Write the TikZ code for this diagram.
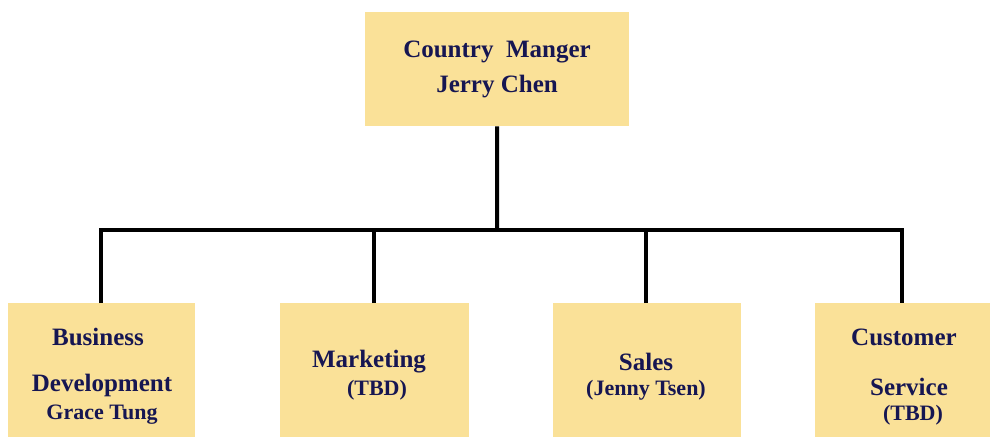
\documentclass[tikz,border=0pt]{standalone}
\usepackage{fontspec}
\setmainfont{Liberation Serif}
\definecolor{boxfill}{RGB}{250,225,152}
\definecolor{ink}{RGB}{22,22,82}
\begin{document}
\begin{tikzpicture}[x=1pt,y=-1pt,
  unitbox/.style={draw=none,fill=boxfill,inner sep=0pt,anchor=north west},
  txt/.style={text=ink,font=\bfseries,inner sep=0pt},
  big/.style={txt,font=\fontsize{25}{25}\bfseries\selectfont},
  small/.style={txt,font=\fontsize{22}{22}\bfseries\selectfont},
  link/.style={line width=4pt,black,line join=miter}]
\useasboundingbox (0,0) rectangle (992,436);
\clip (0,0) rectangle (992,436);
\fill[white] (0,0) rectangle (992,436);

% boxes
\node[unitbox,minimum width=264pt,minimum height=114pt] (top) at (365,12) {};
\node[unitbox,minimum width=187pt,minimum height=150pt] (b1) at (8,303) {};
\node[unitbox,minimum width=189pt,minimum height=150pt] (b2) at (280,303) {};
\node[unitbox,minimum width=188pt,minimum height=150pt] (b3) at (553,303) {};
\node[unitbox,minimum width=175pt,minimum height=150pt] (b4) at (815,303) {};

% texts
\node[big] (t1) at (497,52) {Country\ \ Manger};
\node[big] (t2) at (497,87) {Jerry Chen};

\node[big] (b1a) at (98,337) {Business};
\node[big] (b1b) at (102,385) {Development};
\node[small] (b1c) at (102,415) {Grace Tung};

\node[big] (b2a) at (369,362) {Marketing};
\node[small] (b2b) at (377,390) {(TBD)};

\node[big] (b3a) at (646,362) {Sales};
\node[small] (b3b) at (646,390) {(Jenny Tsen)};

\node[big] (b4a) at (904,337) {Customer};
\node[big] (b4b) at (909,387) {Service};
\node[small] (b4c) at (913,415) {(TBD)};

% connectors
\coordinate (bus) at (497,230);
\coordinate (d1) at (101,303);
\coordinate (d2) at (374,303);
\coordinate (d3) at (646,303);
\coordinate (d4) at (902,303);
\draw[link] (top.south) -- (bus);
\draw[link] (d1) |- (bus) -| (d4);
\draw[link] (d2) -- (d2 |- bus);
\draw[link] (d3) -- (d3 |- bus);
\end{tikzpicture}
\end{document}
